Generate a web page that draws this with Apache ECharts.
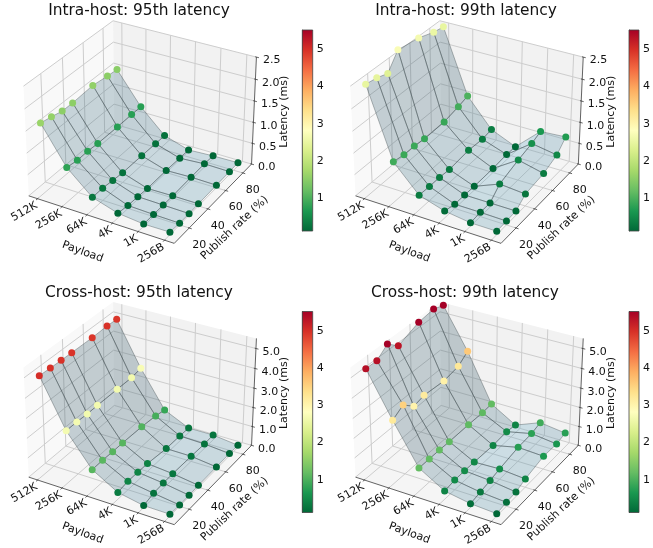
<!DOCTYPE html>
<html><head><meta charset="utf-8"><style>html,body{margin:0;background:#fff}#c{width:653px;height:548px}</style>
<script src="https://cdn.jsdelivr.net/npm/echarts@6/dist/echarts.min.js"></script></head><body><div id="c"></div>
<script>
const payloads=['512K','256K','64K','4K','1K','256B'];
const rates=[10,20,30,40,60,75,85];
const rateTicks=[20,40,60,80];
const vmin=0.12,vmax=5.52;
const colorbarTicks=[1,2,3,4,5];
const zTicksIntra=[0,0.5,1,1.5,2,2.5];
const zTicksCross=[0,1,2,3,4,5];
const intra95=[
[1.64,1.59,1.53,1.53,1.57,1.52,1.50],
[0.80,0.76,0.77,0.75,0.75,0.76,0.76],
[0.29,0.29,0.26,0.23,0.23,0.22,0.22],
[0.11,0.07,0.06,0.04,0.05,0.04,0.04],
[0.05,0.05,0.05,0.05,0.07,0.08,0.07],
[0.06,0.04,0.04,0.05,0.06,0.07,0.08]];
const intra99=[
[2.50,2.46,2.38,2.73,2.66,2.54,2.50],
[0.93,0.89,0.89,0.86,0.87,0.95,1.02],
[0.34,0.33,0.33,0.31,0.36,0.33,0.37],
[0.16,0.10,0.10,0.09,0.10,0.13,0.12],
[0.08,0.10,0.10,0.33,0.48,0.57,0.66],
[0.08,0.09,0.10,0.28,0.34,0.47,0.70]];
const cross95=[
[5.01,4.98,4.96,4.95,4.93,4.96,4.93],
[2.67,2.67,2.64,2.65,2.64,2.63,2.72],
[1.10,1.11,1.09,1.09,1.05,0.97,0.86],
[0.35,0.44,0.43,0.41,0.28,0.28,0.26],
[0.10,0.24,0.28,0.29,0.27,0.24,0.27],
[0.09,0.06,0.07,0.10,0.11,0.12,0.11]];
const cross99=[
[5.35,5.34,5.76,5.29,5.70,5.81,5.64],
[3.19,3.52,3.03,3.16,3.07,3.22,3.61],
[1.18,1.18,1.18,1.16,1.16,1.14,1.18],
[0.42,0.50,0.51,0.49,0.45,0.51,0.42],
[0.20,0.30,0.41,0.54,0.74,0.79,0.93],
[0.12,0.20,0.24,0.43,0.67,0.63,0.76]];
const S=1400;
const panels=[
 {title:'Intra-host: 95th latency',data:intra95,zMax:2.5,zTicks:zTicksIntra,cx:142.2,cy:126.7,tx:139,ty:3,cb:[302.3,30,10.4,201]},
 {title:'Intra-host: 99th latency',data:intra99,zMax:2.5,zTicks:zTicksIntra,cx:469,cy:126.7,tx:466,ty:3,cb:[629,30,10.4,201]},
 {title:'Cross-host: 95th latency',data:cross95,zMax:5.5,zTicks:zTicksCross,cx:142.2,cy:408,tx:139,ty:285,cb:[302.3,311.5,10.4,201]},
 {title:'Cross-host: 99th latency',data:cross99,zMax:5.5,zTicks:zTicksCross,cx:469,cy:408,tx:465,ty:285,cb:[629,311.5,10.4,201]}
];
const RdYlGn=['#006837','#1a9850','#66bd63','#a6d96a','#d9ef8b','#ffffbf','#fee08b','#fdae61','#f46d43','#d73027','#a50026'];
const FONT='"DejaVu Sans"';
const D2R=Math.PI/180;
const k=1.8294640721620434*25/24/Math.hypot(4,4,3);
const A=[4*k,4*k,3*k],R=[A[0]/2,A[1]/2,A[2]/2];
const w=[Math.cos(30*D2R)*Math.cos(-60*D2R),Math.cos(30*D2R)*Math.sin(-60*D2R),Math.sin(30*D2R)];
const u=[-w[1],w[0],0].map(v=>v/Math.hypot(w[0],w[1]));
const v=[w[1]*u[2]-w[2]*u[1],w[2]*u[0]-w[0]*u[2],w[0]*u[1]-w[1]*u[0]];
const dot=(a,b)=>a[0]*b[0]+a[1]*b[1]+a[2]*b[2];
const xm=5*(0.05+1.1/48),ym=75*(0.05+1.1/48);
const xlo=-xm,xhi=5+xm,ylo=10-ym,yhi=85+ym;
function proj(x,y,z,zlo,zhi){
 const d=[(x-xlo)/(xhi-xlo)*A[0]-R[0],(y-ylo)/(yhi-ylo)*A[1]-R[1],(z-zlo)/(zhi-zlo)*A[2]-R[2]];
 const dist=10-dot(w,d);
 return [dot(u,d)/dist,dot(v,d)/dist,dist];
}
const LD=[-2/3,-2/3,1/3];
const base=[135,206,235];
const series=[],grids=[],xAxes=[],yAxes=[],titles=[];
panels.forEach((p,pi)=>{
 const zlo=0,zhi=p.zMax;
 const P=(x,y,z)=>proj(x,y,z,zlo,zhi);
 const Z=p.data;
 grids.push({left:p.cx-0.1*S,top:4,width:0.2*S,height:p.cy-4+0.1*S});
 xAxes.push({type:'value',gridIndex:pi*2,min:-0.1,max:0.1,show:false});
 yAxes.push({type:'value',gridIndex:pi*2,min:-0.1,max:(p.cy-4)/S,show:false});
 grids.push({left:p.cb[0],top:p.cb[1],width:p.cb[2],height:p.cb[3]});
 xAxes.push({type:'value',gridIndex:pi*2+1,min:0,max:1,show:false});
 yAxes.push({type:'value',gridIndex:pi*2+1,position:'right',min:vmin,max:vmax,
   axisLine:{show:true,lineStyle:{color:'#444',width:0.8}},
   axisTick:{show:true,length:3,lineStyle:{color:'#444',width:0.8},customValues:colorbarTicks},
   axisLabel:{fontFamily:FONT,fontSize:11,color:'#111',margin:4,customValues:colorbarTicks,formatter:String},splitLine:{show:false}});
 titles.push({text:p.title,left:p.tx,top:p.ty,padding:0,textAlign:'center',textStyle:{fontFamily:FONT,fontSize:15.4,fontWeight:'normal',color:'#111'}});
 const items=[];
 const poly=(pts,fill)=>items.push({k:'poly',pts:pts.map(q=>P(...q)),fill});
 const seg=(a,b,c,wd)=>items.push({k:'line',pts:[P(...a),P(...b)],c,wd});
 poly([[xlo,ylo,zlo],[xlo,yhi,zlo],[xlo,yhi,zhi],[xlo,ylo,zhi]],'rgb(249,249,249)');
 poly([[xlo,yhi,zlo],[xhi,yhi,zlo],[xhi,yhi,zhi],[xlo,yhi,zhi]],'rgb(242,242,242)');
 poly([[xlo,ylo,zlo],[xhi,ylo,zlo],[xhi,yhi,zlo],[xlo,yhi,zlo]],'rgb(245,245,245)');
 const gc='rgb(205,205,205)';
 payloads.forEach((_,i)=>{seg([i,ylo,zlo],[i,yhi,zlo],gc,1);seg([i,yhi,zlo],[i,yhi,zhi],gc,1);});
 rateTicks.forEach(r=>{seg([xhi,r,zlo],[xlo,r,zlo],gc,1);seg([xlo,r,zlo],[xlo,r,zhi],gc,1);});
 p.zTicks.forEach(z=>{seg([xlo,ylo,z],[xlo,yhi,z],gc,1);seg([xlo,yhi,z],[xhi,yhi,z],gc,1);});
 const dark='#3c3c3c',dx=(xhi-xlo)/12,dy=(yhi-ylo)/12;
 seg([xlo,ylo,zlo],[xhi,ylo,zlo],dark,0.8);seg([xhi,ylo,zlo],[xhi,yhi,zlo],dark,0.8);seg([xhi,yhi,zlo],[xhi,yhi,zhi],dark,0.8);
 payloads.forEach((_,i)=>seg([i,ylo-0.2*dy,zlo],[i,ylo+0.1*dy,zlo],dark,0.8));
 rateTicks.forEach(r=>seg([xhi-0.1*dx,r,zlo],[xhi+0.2*dx,r,zlo],dark,0.8));
 p.zTicks.forEach(z=>seg([xhi-0.1*dx,yhi,z],[xhi+0.2*dx,yhi,z],dark,0.8));
 series.push({type:'custom',coordinateSystem:'cartesian2d',xAxisIndex:pi*2,yAxisIndex:pi*2,silent:true,animation:false,clip:false,
  data:items.map((_,i)=>[i]),renderItem:(par,api)=>{const it=items[par.dataIndex];const pts=it.pts.map(q=>api.coord([q[0],q[1]]));
   if(it.k==='poly')return{type:'polygon',shape:{points:pts},style:{fill:it.fill,stroke:'none'}};
   return{type:'line',shape:{x1:pts[0][0],y1:pts[0][1],x2:pts[1][0],y2:pts[1][1]},style:{stroke:it.c,lineWidth:it.wd,fill:'none'}};}});
 const quads=[];
 for(let i=0;i<5;i++)for(let j=0;j<6;j++){
  const c=[[i,rates[j],Z[i][j]],[i+1,rates[j],Z[i+1][j]],[i+1,rates[j+1],Z[i+1][j+1]],[i,rates[j+1],Z[i][j+1]]];
  const a=[c[2][0]-c[0][0],c[2][1]-c[0][1],c[2][2]-c[0][2]],b=[c[3][0]-c[1][0],c[3][1]-c[1][1],c[3][2]-c[1][2]];
  const nn=[a[1]*b[2]-a[2]*b[1],a[2]*b[0]-a[0]*b[2],a[0]*b[1]-a[1]*b[0]];
  const l=Math.hypot(...nn);const sh=dot(nn,LD)/l;const f=0.3+0.7*(sh+1)/2;
  const pp=c.map(q=>P(...q));
  quads.push({pts:pp,depth:pp.reduce((s,q)=>s+q[2],0)/4,f});
 }
 quads.sort((a,b)=>b.depth-a.depth);
 series.push({type:'custom',coordinateSystem:'cartesian2d',xAxisIndex:pi*2,yAxisIndex:pi*2,silent:true,animation:false,clip:false,
  data:quads.map((_,i)=>[i]),renderItem:(par,api)=>{const q=quads[par.dataIndex];
   const c=base.map(x=>Math.round(x*q.f));
   return{type:'polygon',shape:{points:q.pts.map(a=>api.coord([a[0],a[1]]))},style:{fill:`rgba(${c[0]},${c[1]},${c[2]},0.3)`,stroke:'rgba(40,50,55,0.42)',lineWidth:0.8}};}});
 const sd=[];Z.forEach((r,i)=>r.forEach((z,j)=>{const a=P(i,rates[j],z);sd.push([a[0],a[1],Math.min(vmax,Math.max(vmin,z))]);}));
 series.push({type:'scatter',id:'pts'+pi,xAxisIndex:pi*2,yAxisIndex:pi*2,symbolSize:7,silent:true,animation:false,clip:false,data:sd,itemStyle:{opacity:1}});
 series.push({type:'custom',coordinateSystem:'cartesian2d',xAxisIndex:pi*2+1,yAxisIndex:pi*2+1,silent:true,animation:false,clip:false,data:[[0]],
  renderItem:(par,api)=>{const a=api.coord([0,vmax]),b=api.coord([1,vmin]);
   return{type:'rect',shape:{x:a[0],y:a[1],width:b[0]-a[0],height:b[1]-a[1]},style:{stroke:'#444',lineWidth:0.8,fill:new echarts.graphic.LinearGradient(0,1,0,0,RdYlGn.map((color,i)=>({offset:i/10,color})))}};}});
 const T=[];
 const txt=(q,ox,oy,text,rot,align)=>T.push({q:P(...q),ox,oy,text,rot,align});
 payloads.forEach((s,i)=>txt([i,ylo,zlo],-1,6,s,30,'right'));
 rateTicks.forEach(r=>txt([xhi,r,zlo],10,17,String(r),0,'center'));
 p.zTicks.forEach(z=>txt([xhi,yhi,z],6.5,3.5,z.toFixed(1),0,'left'));
 txt([2.5,ylo,zlo],-17,33,'Payload',-20,'center');
 txt([xhi,47.5,zlo],20,26,'Publish rate (%)',43,'center');
 txt([xhi,yhi,p.zMax/2],30,0,'Latency (ms)',90,'center');
 series.push({type:'custom',coordinateSystem:'cartesian2d',xAxisIndex:pi*2,yAxisIndex:pi*2,silent:true,animation:false,clip:false,
  data:T.map((_,i)=>[i]),renderItem:(par,api)=>{const t=T[par.dataIndex];const c=api.coord([t.q[0],t.q[1]]);
   return{type:'text',x:c[0]+t.ox,y:c[1]+t.oy,rotation:t.rot*D2R,style:{x:0,y:0,text:t.text,fontFamily:FONT,fontSize:11,fill:'#111',align:t.align,verticalAlign:'middle'}};}});
});
const scatterIdx=series.map((s,i)=>s.type==='scatter'?i:-1).filter(i=>i>=0);
const chart=echarts.init(document.getElementById('c'),null,{renderer:'canvas'});
chart.setOption({animation:false,title:titles,grid:grids,xAxis:xAxes,yAxis:yAxes,series,
 visualMap:{show:false,type:'continuous',min:vmin,max:vmax,dimension:2,seriesIndex:scatterIdx,inRange:{color:RdYlGn}}});
</script></body></html>
